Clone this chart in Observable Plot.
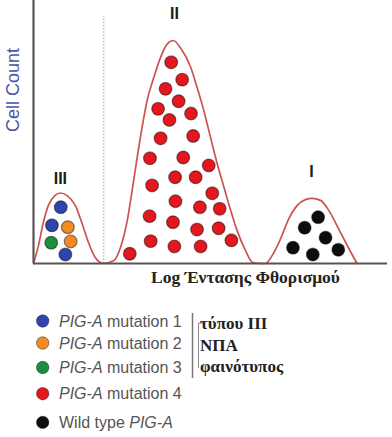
<!DOCTYPE html>
<html>
<head>
<meta charset="utf-8">
<script src="https://cdn.jsdelivr.net/npm/d3@7"></script>
<script src="https://cdn.jsdelivr.net/npm/@observablehq/plot@0.6"></script>
<style>
  html, body { margin: 0; padding: 0; background: #fff; }
  #chart svg { display: block; }
</style>
</head>
<body>
<div id="chart"></div>
<script>
// ---- data (log fluorescence intensity x, cell count y, both in 0–100 units) ----
const curveX = [0, 1.4, 2.8, 4.2, 6.1, 7.6, 9.4, 11.8, 13.6, 15.5, 17.4, 19.8, 22.7, 24.6, 26.5, 28.3, 30.2, 32.1, 34.0, 35.9, 37.8, 39.5, 41.5, 44.4, 46.2, 48.1, 50.0, 51.9, 53.8, 55.7, 57.5, 59.9, 61.9, 64.1, 65.5, 67.4, 69.8, 72.1, 74.5, 76.8, 78.7, 81.1, 83.4, 86.2, 89.1, 91.4];
const curveY = [0, 6.8, 15.7, 22.1, 25.9, 26.8, 25.9, 22.1, 15.7, 8.1, 2.4, 0, 1.1, 6.2, 16.4, 31.6, 48.0, 62.0, 70.8, 78.4, 83.5, 84.8, 82.0, 74.6, 67.0, 58.2, 48.0, 37.9, 29.0, 20.2, 12.6, 4.9, 0.4, 0, 0, 3.0, 9.4, 17.0, 22.1, 24.3, 24.8, 24.0, 20.2, 13.2, 5.6, 0];

// population III (type III PNH cells, mixed mutations)
const popIIIx   = [7.7, 5.2, 9.7, 5.0, 10.5, 9.0];
const popIIIy   = [21.4, 14.5, 13.8, 7.9, 8.4, 3.4];
const popIIIMut = [1, 1, 2, 3, 2, 1];

// population II (mutation 4)
const popIIx = [38.9, 42.0, 37.3, 41.0, 35.2, 38.4, 44.5, 35.9, 45.1, 32.9, 42.3, 49.5, 33.5, 40.0, 45.8, 50.5, 40.1, 47.0, 52.6, 32.8, 39.4, 46.2, 52.3, 33.1, 39.8, 47.2, 55.9, 27.2];
const popIIy = [76.5, 69.9, 66.4, 61.7, 58.8, 54.6, 57.0, 47.6, 48.5, 40.0, 40.3, 37.3, 29.7, 32.8, 32.8, 26.7, 23.7, 21.4, 20.8, 18.0, 15.7, 12.9, 13.4, 8.5, 6.5, 6.5, 8.8, 3.7];

// population I (wild type)
const popIx = [80.4, 76.6, 82.5, 73.3, 78.9, 86.1];
const popIy = [17.6, 13.6, 9.8, 6.0, 3.4, 5.2];

const peakLabels = ["III", "II", "I"];
const peakLabelX = [7.6, 39.8, 78.5];
const peakLabelY = [32.3, 95.1, 35.0];

const dividerX = 19.8;
const dividerTop = 93.9;

const yLabel = "Cell Count";
const xLabel = "Log Έντασης Φθορισμού";

const legendLabels = ["PIG-A mutation 1", "PIG-A mutation 2", "PIG-A mutation 3", "PIG-A mutation 4", "Wild type PIG-A"];
const bracketLines = ["τύπου III", "ΝΠΑ", "φαινότυπος"];

// ---- styles ----
const palette = ["#2f45ae", "#f48a25", "#1f8c3f", "#e4161e", "#0d0d0d"];

// ---- build tables ----
const curve = curveX.map((x, i) => ({x, y: curveY[i]}));
const cells = [
  ...popIIIx.map((x, i) => ({x, y: popIIIy[i], type: legendLabels[popIIIMut[i] - 1]})),
  ...popIIx.map((x, i) => ({x, y: popIIy[i], type: legendLabels[3]})),
  ...popIx.map((x, i) => ({x, y: popIy[i], type: legendLabels[4]}))
];
const peaks = peakLabels.map((t, i) => ({t, x: peakLabelX[i], y: peakLabelY[i]}));

const chart = Plot.plot({
  width: 392,
  height: 300,
  marginLeft: 33,
  marginRight: 5,
  marginTop: 0,
  marginBottom: 37,
  x: {domain: [0, 100], axis: null},
  y: {domain: [0, 100], axis: null},
  color: {domain: legendLabels, range: palette},
  style: {background: "#fff", overflow: "visible", fontFamily: "Liberation Sans, Arial, sans-serif"},
  marks: [
    Plot.ruleX([dividerX], {y1: 0, y2: dividerTop, stroke: "#9fb0c2", strokeWidth: 1.6, strokeDasharray: "1.2,2"}),
    Plot.line(curve, {x: "x", y: "y", curve: "monotone-x", stroke: "#cc5352", strokeWidth: 1.7}),
    Plot.dot(cells, {x: "x", y: "y", r: 6.4, fill: "type", stroke: "#000", strokeOpacity: 0.45, strokeWidth: 1.2}),
    Plot.ruleX([0], {stroke: "#555", strokeWidth: 2.2}),
    Plot.ruleY([0], {stroke: "#555", strokeWidth: 2.2}),
    Plot.text(peaks, {x: "x", y: "y", text: "t", fontSize: 16, fontWeight: "bold", fill: "#1a1a1a", fontFamily: "Liberation Sans, Arial, sans-serif"}),
    Plot.text([yLabel], {frameAnchor: "left", dx: -20, rotate: -90, fontSize: 18, fill: "#4a56a6", fontFamily: "Liberation Sans, Arial, sans-serif"}),
    Plot.text([xLabel], {frameAnchor: "bottom", dx: 35, dy: 19.5, fontSize: 17.5, fontWeight: "bold", fill: "#222", fontFamily: "Liberation Serif, Times New Roman, serif"})
  ]
});
document.getElementById("chart").appendChild(chart);

// ---- legend below the plot ----
const legendY = [21, 43, 67.5, 93.7, 122.4];
const leg = d3.select("#chart").append("svg")
  .attr("width", 392).attr("height", 137)
  .style("display", "block")
  .style("font-family", "Liberation Sans, Arial, sans-serif");

legendLabels.forEach((lab, i) => {
  const g = leg.append("g");
  g.append("circle").attr("cx", 42.7).attr("cy", legendY[i]).attr("r", 6.2)
    .attr("fill", palette[i]).attr("stroke", "#000").attr("stroke-opacity", 0.4).attr("stroke-width", 1);
  const t = g.append("text").attr("x", 59).attr("y", legendY[i]).attr("dy", "0.36em")
    .attr("font-size", 16).attr("fill", "#555");
  const parts = lab.split(/(PIG-A)/).filter(s => s.length);
  parts.forEach(p => {
    t.append("tspan").text(p).attr("font-style", p === "PIG-A" ? "italic" : "normal");
  });
});

leg.append("line").attr("x1", 192.5).attr("x2", 192.5).attr("y1", 13).attr("y2", 78)
  .attr("stroke", "#777").attr("stroke-width", 1.5);
leg.append("path").attr("d", "M203.5,23 H198.5 V68").attr("fill", "none")
  .attr("stroke", "#8a8a8a").attr("stroke-width", 1);

const bracketBase = [28.7, 50.7, 71.5];
bracketLines.forEach((s, i) => {
  leg.append("text").attr("x", 200).attr("y", bracketBase[i]).text(s)
    .attr("font-size", 17).attr("font-weight", "bold").attr("fill", "#222")
    .attr("font-family", "Liberation Serif, Times New Roman, serif");
});
</script>
</body>
</html>
